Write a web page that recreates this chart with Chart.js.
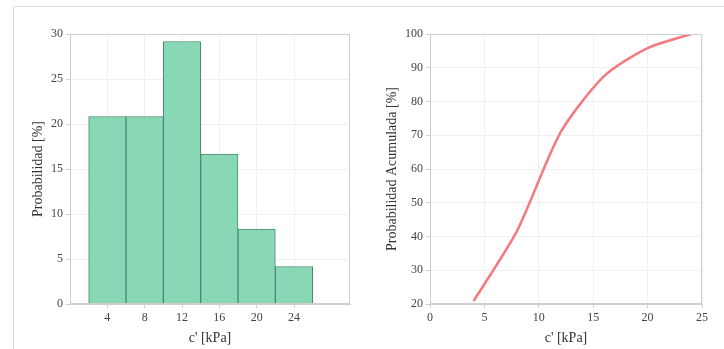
<!DOCTYPE html>
<html>
<head>
<meta charset="utf-8">
<script src="https://cdn.jsdelivr.net/npm/chart.js@4"></script>
<style>
  html, body { margin: 0; padding: 0; background: #fff; }
  #wrap { position: relative; width: 724px; height: 349px; overflow: hidden; }
  #frame { position: absolute; left: 13px; top: 6px; width: 720px; height: 360px;
           border-top: 1px solid #dcdcdc; border-left: 1px solid #dcdcdc; }
  canvas { position: absolute; top: 0; }
  #hist { left: 0; }
  #cum { left: 362px; }
</style>
</head>
<body>
<div id="wrap">
  <div id="frame"></div>
  <canvas id="hist" width="362" height="349"></canvas>
  <canvas id="cum" width="362" height="349"></canvas>
</div>
<script>
// histogram of c' (24 samples, bin width 4 kPa)
const binCenters = [4, 8, 12, 16, 20, 24];
const probability = [20.83, 20.83, 29.17, 16.67, 8.33, 4.17];
const histXTicks = [4, 8, 12, 16, 20, 24];
const histYTicks = [0, 5, 10, 15, 20, 25, 30];

// cumulative curve
const cumX = [4, 8, 12, 16, 20, 24];
const cumProbability = [20.83, 41.67, 70.83, 87.5, 95.83, 100];
const cumXTicks = [0, 5, 10, 15, 20, 25];
const cumYTicks = [20, 30, 40, 50, 60, 70, 80, 90, 100];

const FONT = "'Liberation Serif', 'DejaVu Serif', serif";
const GRID = '#f0f0f0';
const BORDER = '#cfcfcf';
const TICK_COLOR = '#444';

// light box around the plot area
const boxPlugin = {
  id: 'box',
  afterDatasetsDraw(chart) {
    const { ctx, chartArea: a } = chart;
    ctx.save();
    ctx.strokeStyle = BORDER;
    ctx.lineWidth = 1;
    ctx.strokeRect(a.left + 0.5, a.top + 0.5, a.right - a.left - 1, a.bottom - a.top - 1);
    ctx.restore();
  }
};

function axis(min, max, ticks, title, fixSize, isY) {
  return {
    type: 'linear',
    min: min,
    max: max,
    offset: false,
    afterBuildTicks: (s) => { s.ticks = ticks.map(v => ({ value: v })); },
    afterFit: (s) => { if (isY) s.width = fixSize; else s.height = fixSize; },
    grid: { color: GRID, tickLength: 4, tickColor: BORDER, offset: false },
    border: { color: BORDER },
    ticks: { color: TICK_COLOR, font: { family: FONT, size: 12 }, padding: 3 },
    title: { display: true, text: title, color: '#333', font: { family: FONT, size: 14 }, padding: { top: 0, bottom: 2 } }
  };
}

Chart.defaults.animation = false;

new Chart(document.getElementById('hist'), {
  type: 'bar',
  data: {
    datasets: [{
      data: binCenters.map((x, i) => ({ x: x, y: probability[i] })),
      backgroundColor: '#88d8b6',
      borderColor: '#4b8a70',
      borderWidth: 1,
      barPercentage: 1,
      categoryPercentage: 1
    }]
  },
  options: {
    responsive: false,
    layout: { padding: { left: 30, right: 12, top: 34, bottom: 0 } },
    plugins: { legend: { display: false }, tooltip: { enabled: false } },
    scales: {
      x: axis(0, 30, histXTicks, "c' [kPa]", 45, false),
      y: axis(0, 30, histYTicks, 'Probabilidad [%]', 40, true)
    }
  },
  plugins: [boxPlugin]
});

new Chart(document.getElementById('cum'), {
  type: 'line',
  data: {
    datasets: [{
      data: cumX.map((x, i) => ({ x: x, y: cumProbability[i] })),
      borderColor: '#f47a7e',
      borderWidth: 2.5,
      pointRadius: 0,
      tension: 0.25,
      fill: false
    }]
  },
  options: {
    responsive: false,
    layout: { padding: { left: 22, right: 22, top: 34, bottom: 0 } },
    plugins: { legend: { display: false }, tooltip: { enabled: false } },
    scales: {
      x: axis(0, 25, cumXTicks, "c' [kPa]", 45, false),
      y: axis(20, 100, cumYTicks, 'Probabilidad Acumulada [%]', 46, true)
    }
  },
  plugins: [boxPlugin]
});
</script>
</body>
</html>
